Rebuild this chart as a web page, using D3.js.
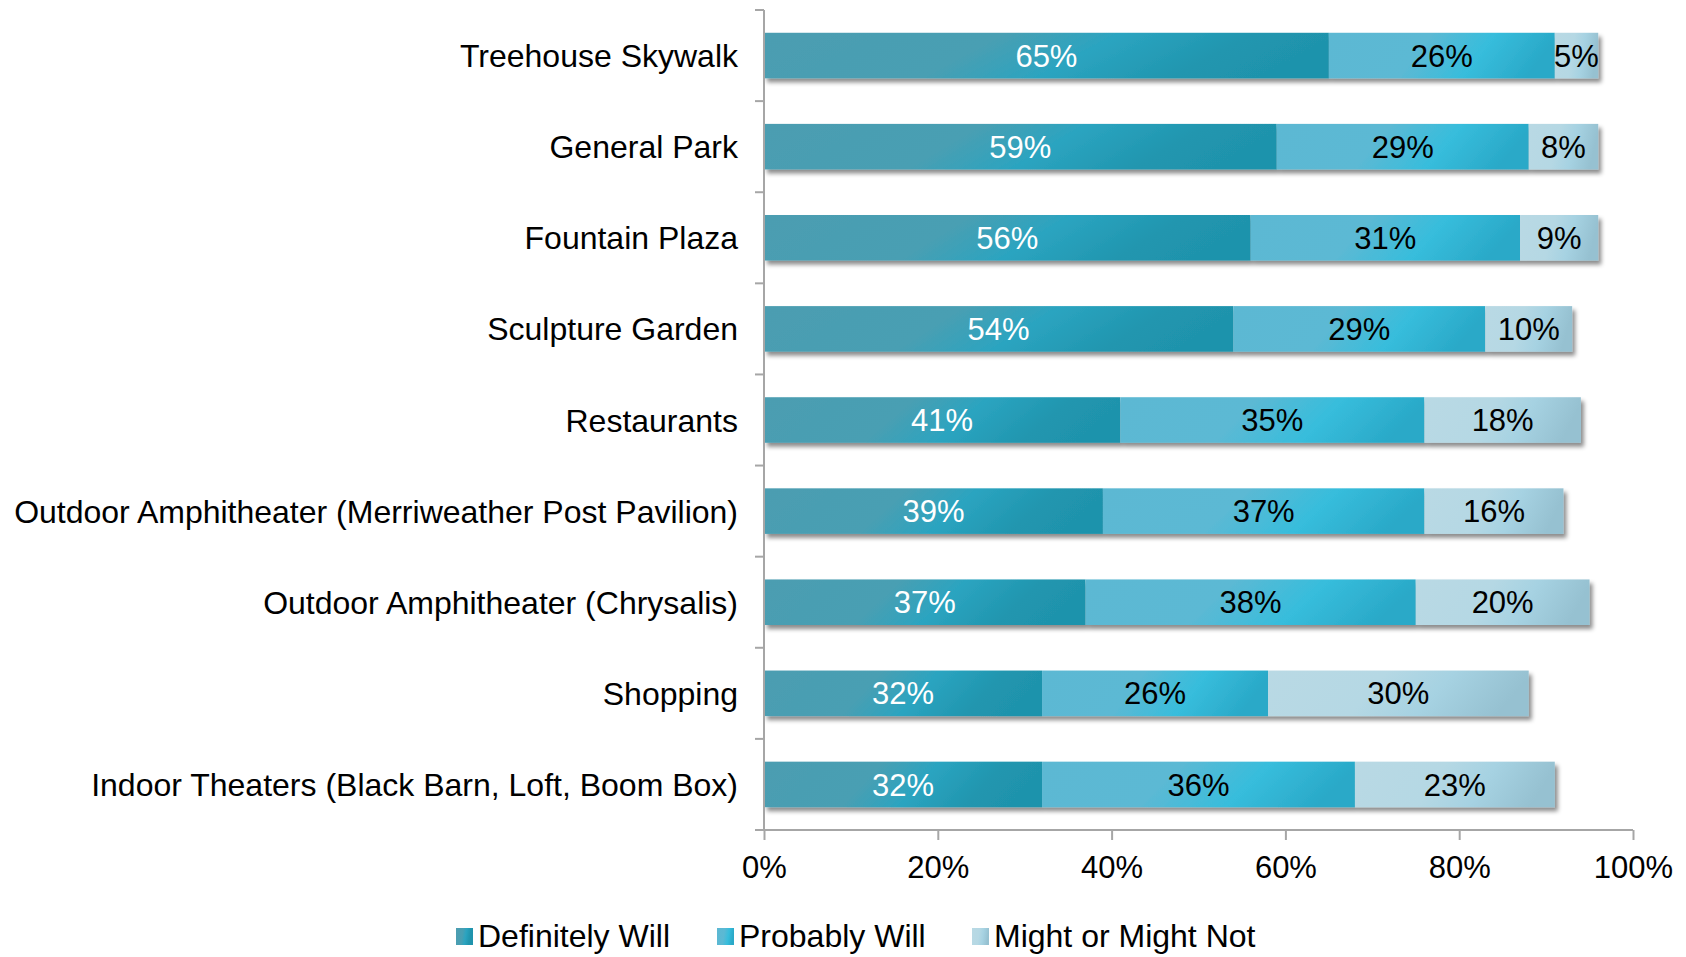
<!DOCTYPE html>
<html>
<head>
<meta charset="utf-8">
<script src="https://cdn.jsdelivr.net/npm/d3@7.9.0/dist/d3.min.js"></script>
<style>
  html, body { margin: 0; padding: 0; background: #fff; }
  svg { display: block; font-family: "Liberation Sans", Arial, sans-serif; }
</style>
</head>
<body>
<div id="chart"></div>
<script>
// data
const categories = [
  'Treehouse Skywalk',
  'General Park',
  'Fountain Plaza',
  'Sculpture Garden',
  'Restaurants',
  'Outdoor Amphitheater (Merriweather Post Pavilion)',
  'Outdoor Amphitheater (Chrysalis)',
  'Shopping',
  'Indoor Theaters (Black Barn, Loft, Boom Box)',
];
const seriesNames = ['Definitely Will', 'Probably Will', 'Might or Might Not'];
const definitelyWill = [65, 59, 56, 54, 41, 39, 37, 32, 32];
const probablyWill = [26, 29, 31, 29, 35, 37, 38, 26, 36];
const mightOrMightNot = [5, 8, 9, 10, 18, 16, 20, 30, 23];
const xTicks = [0, 20, 40, 60, 80, 100];

const width = 1686;
const height = 957;
const margin = { top: 10, right: 53, bottom: 127, left: 764 };

const svg = d3.select('#chart')
  .append('svg')
  .attr('width', width)
  .attr('height', height);

const defs = svg.append('defs');

// gradients for each series (horizontal, per segment)
const gradStops = [
  [[0, '#4c9db1'], [0.42, '#489fb3'], [0.62, '#2ba4c0'], [0.85, '#2196af'], [1, '#1f93ac']],
  [[0, '#5cb8d3'], [0.45, '#5bb9d4'], [0.72, '#37bddc'], [1, '#2aa9c8']],
  [[0, '#b9d9e4'], [0.45, '#b5d8e4'], [0.7, '#a6d2e2'], [1, '#96c1d1']],
];
gradStops.forEach((stops, i) => {
  const g = defs.append('linearGradient')
    .attr('id', 'grad' + i)
    .attr('x1', 0).attr('y1', 0).attr('x2', 1).attr('y2', 0.15);
  stops.forEach(([o, c]) => g.append('stop').attr('offset', o).attr('stop-color', c));
});

const shadow = defs.append('filter')
  .attr('id', 'shadow')
  .attr('x', '-5%').attr('y', '-20%')
  .attr('width', '110%').attr('height', '160%');
shadow.append('feDropShadow')
  .attr('dx', 3).attr('dy', 4)
  .attr('stdDeviation', 2.2)
  .attr('flood-color', '#000')
  .attr('flood-opacity', 0.45);

const x = d3.scaleLinear()
  .domain([0, 100])
  .range([margin.left, width - margin.right]);

const y = d3.scaleBand()
  .domain(categories)
  .range([margin.top, height - margin.bottom])
  .paddingInner(0.5)
  .paddingOuter(0.25);

const rows = categories.map((c, i) => ({
  category: c,
  [seriesNames[0]]: definitelyWill[i],
  [seriesNames[1]]: probablyWill[i],
  [seriesNames[2]]: mightOrMightNot[i],
}));

const stacked = d3.stack().keys(seriesNames)(rows);

// one group per category row so the shadow wraps the whole bar
const rowG = svg.append('g')
  .selectAll('g')
  .data(rows)
  .join('g')
  .attr('filter', 'url(#shadow)');

rowG.each(function (row, ri) {
  const g = d3.select(this);
  stacked.forEach((layer, si) => {
    const d = layer[ri];
    g.append('rect')
      .attr('x', x(d[0]))
      .attr('y', y(row.category))
      .attr('width', x(d[1]) - x(d[0]))
      .attr('height', y.bandwidth())
      .attr('fill', `url(#grad${si})`);
  });
});

// value labels
stacked.forEach((layer, si) => {
  svg.append('g')
    .selectAll('text')
    .data(layer)
    .join('text')
    .attr('x', (d) => (x(d[0]) + x(d[1])) / 2)
    .attr('y', (d) => y(d.data.category) + y.bandwidth() / 2)
    .attr('dy', '0.36em')
    .attr('text-anchor', 'middle')
    .attr('font-size', 31)
    .attr('fill', si === 0 ? '#fff' : '#000')
    .text((d) => (d[1] - d[0]) + '%');
});

// y axis: line plus ticks on category boundaries
const axisColor = '#a6a6a6';
const yTop = y.range()[0];
const yBottom = y.range()[1];
svg.append('line')
  .attr('x1', x(0)).attr('x2', x(0))
  .attr('y1', yTop).attr('y2', yBottom)
  .attr('stroke', axisColor).attr('stroke-width', 2);

const boundaries = d3.range(categories.length + 1).map((i) => yTop + i * y.step());
svg.append('g')
  .selectAll('line')
  .data(boundaries)
  .join('line')
  .attr('x1', x(0) - 9).attr('x2', x(0))
  .attr('y1', (d) => d).attr('y2', (d) => d)
  .attr('stroke', axisColor).attr('stroke-width', 2);

svg.append('g')
  .selectAll('text')
  .data(categories)
  .join('text')
  .attr('x', x(0) - 26)
  .attr('y', (d) => y(d) + y.bandwidth() / 2)
  .attr('dy', '0.36em')
  .attr('text-anchor', 'end')
  .attr('font-size', 32)
  .attr('fill', '#000')
  .text((d) => d);

// x axis
const xAxis = svg.append('g')
  .attr('transform', `translate(0, ${yBottom})`)
  .call(d3.axisBottom(x).tickValues(xTicks).tickSize(10).tickSizeOuter(0).tickPadding(16)
    .tickFormat((d) => d + '%'));
xAxis.select('.domain')
  .attr('stroke', axisColor).attr('stroke-width', 2)
  .attr('d', `M${x(0) - 9},0H${x(100)}`);
xAxis.selectAll('.tick line').attr('stroke', axisColor).attr('stroke-width', 2);
xAxis.selectAll('.tick text')
  .attr('font-size', 31)
  .attr('font-family', '"Liberation Sans", Arial, sans-serif')
  .attr('fill', '#000');

// legend
const legendX = [456, 717, 972];
const legend = svg.append('g')
  .selectAll('g')
  .data(seriesNames)
  .join('g')
  .attr('transform', (d, i) => `translate(${legendX[i]}, 928)`);
legend.append('rect')
  .attr('width', 17).attr('height', 17)
  .attr('fill', (d, i) => `url(#grad${i})`);
legend.append('text')
  .attr('x', 22)
  .attr('y', 19)
  .attr('font-size', 32)
  .attr('fill', '#000')
  .text((d) => d);
</script>
</body>
</html>
